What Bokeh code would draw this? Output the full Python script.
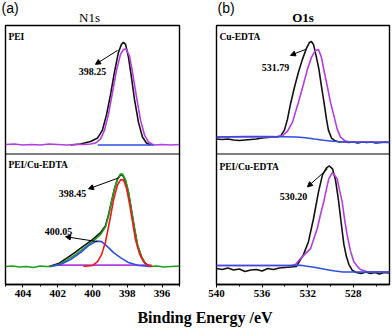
from bokeh.plotting import figure
from bokeh.models import Range1d, Label, Arrow, NormalHead, Span, SingleIntervalTicker
from bokeh.layouts import column, row
from bokeh.embed import file_html
from bokeh.resources import INLINE

# ---------------- data (binding energy eV, intensity a.u.) ----------------
# N1s, PEI
pei_env_E = [401.26, 400.69, 400.11, 399.71, 399.43, 399.20, 398.97, 398.74, 398.51, 398.34,
             398.22, 398.10, 397.93, 397.76, 397.59, 397.36, 397.13, 396.90, 396.67]
pei_env_I = [9, 10, 12.5, 16, 24, 39, 59, 82, 102, 110, 112, 110, 97, 77, 55, 32, 17, 11, 9]
pei_fit_E = [405.0, 404.5, 404.0, 403.5, 403.0, 402.5, 402.0, 401.5, 401.0, 400.5, 400.1, 399.83,
             399.54, 399.31, 399.08, 398.85, 398.62, 398.39, 398.22, 398.05, 397.87, 397.70, 397.47,
             397.24, 397.01, 396.78, 396.49, 396.0, 395.5, 395.0]
pei_fit_I = [9.5, 10, 9, 9.5, 9, 10, 9.5, 9, 9.5, 9.5, 10, 11, 15, 24, 40, 62, 84, 100, 105, 105,
             98, 82, 57, 34, 19, 12, 9, 9.5, 9, 9.5]
pei_bg_E = [399.7, 396.5]
pei_bg_I = [9, 9]

# N1s, PEI/Cu-EDTA
mix_raw_E = [405.0, 404.6, 404.2, 403.8, 403.4, 403.0, 402.7, 402.41, 401.95, 401.44, 400.98, 400.52,
             400.00, 399.54, 399.25, 399.08, 398.91, 398.74, 398.56, 398.39, 398.28, 398.10, 397.93,
             397.76, 397.59, 397.41, 397.18, 396.95, 396.67, 396.3, 395.9, 395.5, 395.0]
mix_raw_I = [18, 18.5, 17.5, 18, 17, 18.5, 18, 18, 20, 25, 30, 36, 43, 50, 58, 69, 83, 96, 106, 111,
             111, 105, 93, 75, 57, 40, 28, 21, 18, 18.5, 17.5, 18, 18.5]
mix_env_E = [402.5, 401.95, 401.44, 400.98, 400.52, 400.00, 399.54, 399.25, 399.08, 398.91, 398.74,
             398.56, 398.39, 398.28, 398.10, 397.93, 397.76, 397.59, 397.41, 397.18, 396.95, 396.67]
mix_env_I = [18, 21, 27, 32.5, 38.5, 45, 52, 59, 70, 83, 96, 106, 110, 110, 104, 92, 74, 56, 39, 27,
             20.5, 18]
mix_p1_E = [400.52, 400.00, 399.71, 399.48, 399.25, 399.02, 398.79, 398.56, 398.39, 398.22, 398.05,
            397.87, 397.70, 397.53, 397.30, 397.07, 396.78, 396.55]
mix_p1_I = [18, 19, 23, 30, 43, 63, 85, 100, 105, 105, 97, 81, 63, 45, 31, 23, 19, 18]
mix_p2_E = [402.41, 401.84, 401.26, 400.69, 400.23, 399.77, 399.48, 399.14, 398.79, 398.39, 397.93,
            397.36, 396.67]
mix_p2_I = [18, 20, 25, 32, 39, 43.5, 43, 38, 32, 27, 22, 19, 18]
mix_bg_E = [402.0, 396.6]
mix_bg_I = [19.5, 19.5]

# O1s, Cu-EDTA
cu_raw_E = [540.0, 539.5, 539.0, 538.5, 538.0, 537.5, 537.0, 536.5, 536.0, 535.5, 535.0, 534.7,
            534.39, 534.04, 533.77, 533.51, 533.16, 532.81, 532.46, 532.11, 531.84, 531.67, 531.49,
            531.23, 531.01, 530.79, 530.57, 530.35, 530.18, 529.91, 529.56, 529.2, 528.8, 528.4,
            528.0, 527.6, 527.2, 526.8, 526.4, 526.0, 525.6, 525.2, 524.82]
cu_raw_I = [15, 14.5, 15, 14, 13.5, 14, 14.5, 15, 16, 16.5, 17, 17, 18, 24, 35, 50, 67, 82, 95, 106,
            112, 113, 110, 97, 85, 68, 52, 35, 24, 16, 13, 12, 12.5, 11.5, 12, 11, 12, 11.5, 12, 11,
            11.5, 12, 11.5]
cu_fit_E = [540.0, 537.0, 535.1, 534.82, 534.21, 533.77, 533.33, 532.81, 532.37, 532.02, 531.67,
            531.32, 531.05, 530.79, 530.59, 530.26, 530.0, 529.69, 529.41, 529.12, 528.68, 528.25,
            526.5, 524.82]
cu_fit_I = [17, 17, 17, 17, 18.5, 23, 32, 52, 70, 85, 97, 104, 105, 97, 85, 67, 52, 38, 25, 17, 13,
            12, 12, 12]
cu_bg_E = [540.0, 537.5, 535.5, 533.0, 532.2, 531.4, 530.6, 529.8, 529.4, 528.5, 524.82]
cu_bg_I = [17, 17.5, 17.5, 17, 16.3, 15, 13.8, 12.8, 12.5, 12, 11.5]

# O1s, PEI/Cu-EDTA
mo_raw_E = [540.0, 539.5, 539.0, 538.5, 538.0, 537.5, 537.0, 536.5, 536.0, 535.5, 535.0, 534.5,
            534.0, 533.5, 533.0, 532.89, 532.37, 531.93, 531.49, 531.05, 530.70, 530.35, 530.09,
            529.82, 529.56, 529.30, 529.04, 528.82, 528.60, 528.38, 528.07, 527.72, 527.3, 526.9,
            526.5, 526.1, 525.7, 525.3, 524.82]
mo_raw_I = [16, 15, 16.5, 14.5, 15.5, 13, 14.5, 15, 13.5, 16, 15, 16.5, 17, 17.5, 18, 20, 30, 43, 66,
            93, 110, 117, 119, 116, 105, 85, 60, 40, 28, 20, 14, 12, 11, 12.5, 11, 12, 10.5, 12, 11.5]
mo_fit_E = [540.0, 536.0, 533.51, 533.07, 532.63, 532.19, 531.75, 531.40, 531.14, 530.88, 530.59,
            530.35, 530.15, 529.85, 529.65, 529.41, 529.21, 528.97, 528.77, 528.54, 528.25, 527.96,
            527.63, 527.37, 526.84, 524.82]
mo_fit_I = [19, 19, 19, 20, 26, 31, 36, 48, 57, 70, 83, 96, 106, 112, 110, 106, 95, 83, 66, 50, 34,
            23, 18, 15, 13, 12.5]
mo_bg_E = [540.0, 536.0, 533.1, 532.6, 532.2, 531.3, 530.4, 529.6, 528.9, 524.82]
mo_bg_I = [19, 19, 19.2, 19.3, 18.5, 17, 15, 13.5, 12.5, 12.5]

# peak annotations: (label, label_E, label_I, arrow_from_E, arrow_from_I, arrow_to_E, arrow_to_I)
n1s_top_notes = [("398.25", 400.0, 83, 398.56, 104, 399.83, 90)]
n1s_bot_notes = [("398.45", 401.15, 91, 398.5, 107, 400.23, 96),
                 ("400.05", 401.95, 53, 399.71, 43, 401.55, 48)]
o1s_top_notes = [("531.79", 534.82, 87, 532.19, 105, 533.51, 99)]
o1s_bot_notes = [("530.20", 533.25, 88, 530.26, 116, 532.02, 98)]

panel_tags = ["(a)", "(b)"]
panel_titles = ["N1s", "O1s"]
x_caption = "Binding Energy /eV"

BOT_H = 131   # height of lower sub-panel (data units)
TOP_H = 129
SERIF = "Liberation Serif"

BLACK = "#111111"
PURPLE = "#b33ee0"
BLUE = "#2f4fe0"
RED = "#f01818"
GREEN = "#1e9e1e"


def shift(vals, off):
    return [v + off for v in vals]


def strip(height):
    s = figure(width=392, height=height, x_range=Range1d(0, 392), y_range=Range1d(height, 0),
               output_backend="svg", toolbar_location=None, x_axis_location=None,
               y_axis_location=None, min_border=0, outline_line_color=None)
    s.xgrid.visible = False
    s.ygrid.visible = False
    return s


def make_panel(xr, width, mbl, mbr, interval):
    p = figure(width=width, height=277, x_range=Range1d(*xr), y_range=Range1d(0, BOT_H + TOP_H),
               output_backend="svg", toolbar_location=None, y_axis_location=None,
               min_border_left=mbl, min_border_right=mbr, min_border_top=1, min_border_bottom=17)
    p.xgrid.visible = False
    p.ygrid.visible = False
    p.outline_line_color = "black"
    p.outline_line_width = 1.4
    ax = p.xaxis[0]
    ax.ticker = SingleIntervalTicker(interval=interval, num_minor_ticks=2)
    ax.axis_line_color = "black"
    ax.axis_line_width = 1.4
    ax.major_tick_in = 0
    ax.major_tick_out = 3
    ax.minor_tick_in = 0
    ax.minor_tick_out = 2
    ax.major_tick_line_color = "black"
    ax.minor_tick_line_color = "black"
    ax.major_label_standoff = 2
    ax.major_label_text_font = SERIF
    ax.major_label_text_font_style = "bold"
    ax.major_label_text_font_size = "11px"
    ax.major_label_text_color = "black"
    p.add_layout(Span(location=BOT_H, dimension="width", line_color="black", line_width=1.2))
    return p


def notes(p, items, off):
    for txt, lx, ly, x0, y0, x1, y1 in items:
        p.add_layout(Arrow(x_start=x0, y_start=y0 + off, x_end=x1, y_end=y1 + off, line_width=1,
                           line_color="black",
                           end=NormalHead(size=5, fill_color="black", line_color="black")))
        p.add_layout(Label(x=lx, y=ly + off, text=txt, text_font=SERIF, text_font_style="bold",
                           text_font_size="10px", text_align="center", text_baseline="middle",
                           text_color="black"))


def name(p, x, y, txt):
    p.add_layout(Label(x=x, y=y, text=txt, text_font=SERIF, text_font_style="bold",
                       text_font_size="9.5px", text_align="left", text_baseline="middle",
                       text_color="black"))


LW = 1.6
# ---------------- header strip ----------------
ph = strip(24)
ph.add_layout(Label(x=1, y=7.6, text=panel_tags[0], text_font="Liberation Sans", text_font_size="14px",
                    text_align="left", text_baseline="middle", text_color="black"))
ph.add_layout(Label(x=217, y=7.6, text=panel_tags[1], text_font="Liberation Sans", text_font_size="14px",
                    text_align="left", text_baseline="middle", text_color="black"))
ph.add_layout(Label(x=89, y=16.6, text=panel_titles[0], text_font=SERIF, text_font_size="13px",
                    text_align="center", text_baseline="middle", text_color="black"))
ph.add_layout(Label(x=302.5, y=17.2, text=panel_titles[1], text_font=SERIF, text_font_style="bold",
                    text_font_size="13px", text_align="center", text_baseline="middle",
                    text_color="black"))

# ---------------- panel (a) N1s ----------------
pa = make_panel((405, 395), 200, 5, 21, 2)
pa.line(pei_env_E, shift(pei_env_I, BOT_H), line_color=BLACK, line_width=LW)
pa.line(pei_fit_E, shift(pei_fit_I, BOT_H), line_color=PURPLE, line_width=LW)
pa.line(pei_bg_E, shift(pei_bg_I, BOT_H), line_color=BLUE, line_width=LW)
pa.line(mix_env_E, mix_env_I, line_color=BLACK, line_width=LW)
pa.line(mix_bg_E, mix_bg_I, line_color=PURPLE, line_width=LW)
pa.line(mix_raw_E, mix_raw_I, line_color=GREEN, line_width=LW)
pa.line(mix_p2_E, mix_p2_I, line_color=BLUE, line_width=LW)
pa.line(mix_p1_E, mix_p1_I, line_color=RED, line_width=LW)
notes(pa, n1s_top_notes, BOT_H)
notes(pa, n1s_bot_notes, 0)
name(pa, 404.83, 117 + BOT_H, "PEI")
name(pa, 404.83, 119.5, "PEI/Cu-EDTA")

# ---------------- panel (b) O1s ----------------
pb = make_panel((540, 524.82), 192, 16, 3, 4)
pb.line(cu_raw_E, shift(cu_raw_I, BOT_H), line_color=BLACK, line_width=LW)
pb.line(cu_fit_E, shift(cu_fit_I, BOT_H), line_color=PURPLE, line_width=LW)
pb.line(cu_bg_E, shift(cu_bg_I, BOT_H), line_color=BLUE, line_width=LW)
pb.line(mo_raw_E, mo_raw_I, line_color=BLACK, line_width=LW)
pb.line(mo_fit_E, mo_fit_I, line_color=PURPLE, line_width=LW)
pb.line(mo_bg_E, mo_bg_I, line_color=BLUE, line_width=LW)
notes(pb, o1s_top_notes, BOT_H)
notes(pb, o1s_bot_notes, 0)
name(pb, 539.74, 117 + BOT_H, "Cu-EDTA")
name(pb, 539.74, 118, "PEI/Cu-EDTA")

# ---------------- common x caption ----------------
pc = strip(28)
pc.add_layout(Label(x=204.5, y=16, text=x_caption, text_font=SERIF, text_font_style="bold",
                    text_font_size="16px", text_align="center", text_baseline="middle",
                    text_color="black"))

layout = column(ph, row(pa, pb), pc)
open("out.html", "w").write(file_html(layout, INLINE))
